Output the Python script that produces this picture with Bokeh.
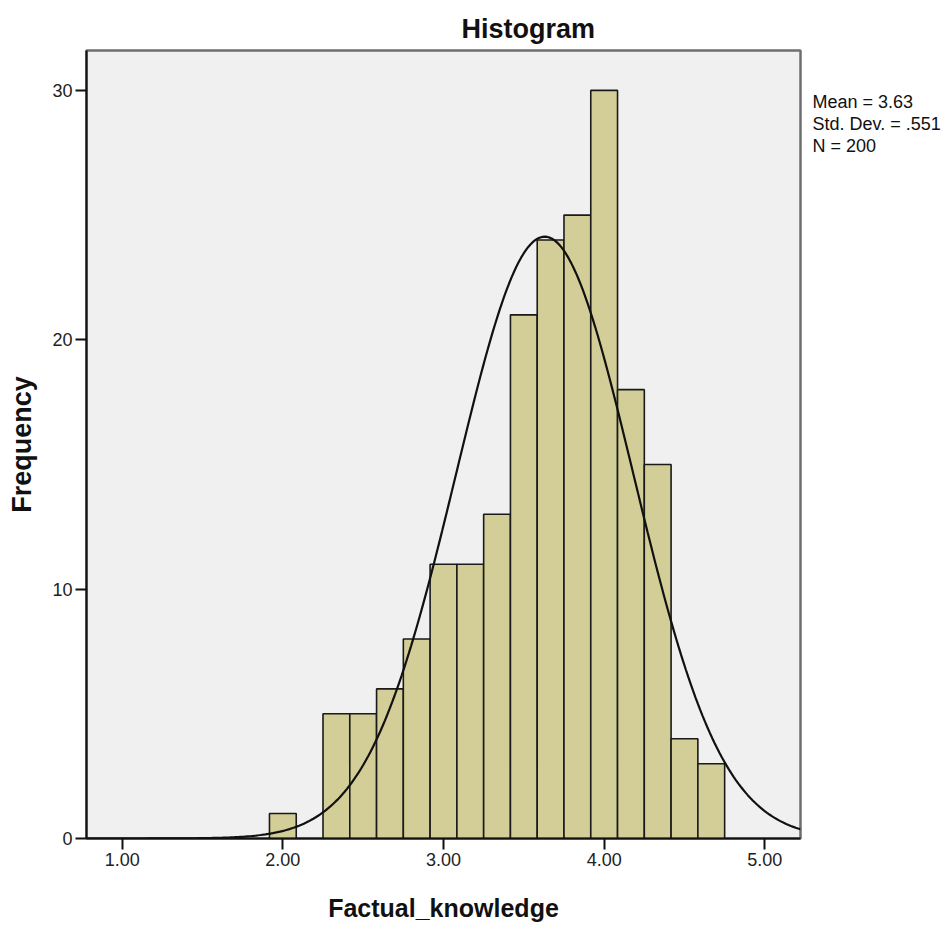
import math
from bokeh.plotting import figure
from bokeh.models import Range1d, FixedTicker, Label, ColumnDataSource, Title
from bokeh.layouts import row
from bokeh.embed import file_html
from bokeh.resources import INLINE

# ---- data ----
bin_centers = [2.0, 2.3333, 2.5, 2.6667, 2.8333, 3.0, 3.1667, 3.3333,
               3.5, 3.6667, 3.8333, 4.0, 4.1667, 4.3333, 4.5, 4.6667]
counts = [1, 5, 5, 6, 8, 11, 11, 13, 21, 24, 25, 30, 18, 15, 4, 3]
bin_width = 1.0 / 6.0
mean_val = 3.63
sd_val = 0.551
n_val = 200
x_ticks = [1, 2, 3, 4, 5]
y_ticks = [0, 10, 20, 30]
stats_lines = ["Mean = 3.63", "Std. Dev. = .551", "N = 200"]

FONT = "Liberation Sans"
X0, X1 = 0.7778, 5.2222
Y0, Y1 = 0, 31.6

p = figure(width=806, height=926, output_backend="svg", toolbar_location=None,
           x_range=Range1d(X0, X1), y_range=Range1d(Y0, Y1),
           min_border_left=86, min_border_right=6, min_border_top=50,
           min_border_bottom=88)
p.frame_width = 714
p.frame_height = 788

p.background_fill_color = "#F0F0F0"
p.border_fill_color = "white"
p.outline_line_color = "#6E6E6E"
p.outline_line_width = 2.5
p.grid.visible = False

src = ColumnDataSource(dict(x=bin_centers, top=counts))
p.vbar(x="x", top="top", width=bin_width, bottom=0, source=src,
       fill_color="#D3CE97", line_color="#1A1A1A", line_width=1.6)

# fitted normal curve from the reported statistics
npts = 300
xs = [X0 + (X1 - X0) * i / (npts - 1) for i in range(npts)]
scale = n_val * bin_width / (sd_val * math.sqrt(2 * math.pi))
ys = [scale * math.exp(-0.5 * ((x - mean_val) / sd_val) ** 2) for x in xs]
p.line(xs, ys, line_color="#111111", line_width=2.2)

# axes
for ax in (p.xaxis[0], p.yaxis[0]):
    ax.axis_line_color = "#111111"
    ax.axis_line_width = 2
    ax.major_tick_line_color = "#111111"
    ax.major_tick_line_width = 2
    ax.major_tick_out = 11
    ax.major_tick_in = 0
    ax.minor_tick_line_color = None
    ax.major_label_text_font = FONT
    ax.major_label_text_font_size = "18px"
    ax.major_label_text_color = "#222222"
    ax.major_label_standoff = 3
    ax.axis_label_text_font = FONT
    ax.axis_label_text_font_style = "bold"
    ax.axis_label_text_color = "#111111"

p.xaxis.ticker = FixedTicker(ticks=x_ticks)
p.xaxis.major_label_overrides = {t: f"{t:.2f}" for t in x_ticks}
p.yaxis.ticker = FixedTicker(ticks=y_ticks)

p.xaxis.axis_label = "Factual_knowledge"
p.xaxis.axis_label_text_font_size = "25px"
p.xaxis.axis_label_standoff = 25
p.yaxis.axis_label = "Frequency"
p.yaxis.axis_label_text_font_size = "27px"
p.yaxis.axis_label_standoff = 12

p.title = Title(text="Histogram", align="left", offset=375,
                text_font=FONT, text_font_size="27px", text_font_style="bold",
                text_color="#111111", standoff=14)

# side panel for the statistics text
p2 = figure(width=141, height=926, output_backend="svg", toolbar_location=None,
            x_range=Range1d(0, 141), y_range=p.y_range,
            x_axis_location=None, y_axis_location=None,
            min_border_left=0, min_border_right=0, min_border_top=50,
            min_border_bottom=88)
p2.frame_height = 788
p2.frame_width = 141
p2.outline_line_color = None
p2.background_fill_color = "white"
p2.border_fill_color = "white"
p2.grid.visible = False
for i, line in enumerate(stats_lines):
    p2.add_layout(Label(x=6, y=29.55 - 0.88 * i, text=line, text_font=FONT,
                        text_font_size="18px", text_align="left",
                        text_baseline="middle", text_color="#111111"))

layout = row(p, p2, spacing=0)
open("out.html", "w").write(file_html(layout, INLINE))
